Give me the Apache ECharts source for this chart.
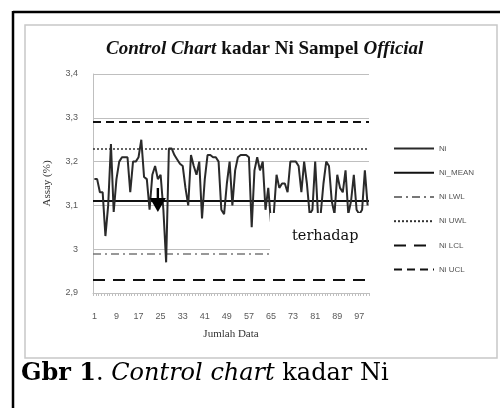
<!DOCTYPE html>
<html>
<head>
<meta charset="utf-8">
<script src="https://cdn.jsdelivr.net/npm/echarts@6/dist/echarts.min.js"></script>
<style>
html,body{margin:0;padding:0;background:#fff;}
#c{width:500px;height:408px;}
</style>
</head>
<body>
<div id="c"></div>
<script>
// ---- data ----
const categories = Array.from({length: 100}, (_, i) => String(i + 1));
const niValues = [
  3.16, 3.16, 3.13, 3.13, 3.03, 3.10, 3.24, 3.085, 3.16, 3.20,
  3.21, 3.21, 3.21, 3.13, 3.20, 3.20, 3.21, 3.25, 3.165, 3.16,
  3.09, 3.17, 3.19, 3.16, 3.17, 3.09, 2.97, 3.23, 3.23, 3.215,
  3.205, 3.195, 3.19, 3.14, 3.10, 3.215, 3.19, 3.17, 3.20, 3.07,
  3.16, 3.215, 3.215, 3.21, 3.21, 3.20, 3.09, 3.08, 3.15, 3.20,
  3.10, 3.18, 3.21, 3.215, 3.215, 3.215, 3.21, 3.05, 3.18, 3.21,
  3.18, 3.20, 3.09, 3.14, 3.06, 3.08, 3.17, 3.14, 3.15, 3.15,
  3.13, 3.20, 3.20, 3.20, 3.19, 3.13, 3.20, 3.15, 3.08, 3.09,
  3.20, 3.08, 3.08, 3.15, 3.20, 3.19, 3.11, 3.08, 3.17, 3.14,
  3.13, 3.18, 3.08, 3.11, 3.17, 3.09, 3.08, 3.09, 3.18, 3.10
];
const limitNames = ['Ni_MEAN', 'Ni LWL', 'Ni UWL', 'Ni LCL', 'Ni UCL'];
const limitValues = [3.108, 2.994, 3.233, 2.930, 3.290];
const yTicks = [2.9, 3.0, 3.1, 3.2, 3.3, 3.4];

// ---- styles ----
const limitStyles = [
  {color: '#111', width: 2, type: 'solid'},
  {color: '#777', width: 1.5, type: [8, 4, 2, 4]},
  {color: '#333', width: 1.5, type: [2, 2]},
  {color: '#111', width: 2, type: [12, 8]},
  {color: '#111', width: 2, type: [8, 5]}
];

const chart = echarts.init(document.getElementById('c'), null, {renderer: 'canvas'});

const series = [{
  name: 'Ni', type: 'line', data: niValues, symbol: 'none', z: 5,
  lineStyle: {color: '#2a2a2a', width: 2}, itemStyle: {color: '#2a2a2a'}
}];
limitNames.forEach((n, i) => {
  series.push({
    name: n, type: 'line', data: [], symbol: 'none', z: 4,
    lineStyle: limitStyles[i], itemStyle: {color: limitStyles[i].color},
    markLine: {
      silent: true, symbol: 'none', label: {show: false},
      lineStyle: limitStyles[i],
      data: [{yAxis: limitValues[i]}]
    }
  });
});

chart.setOption({
  animation: false,
  backgroundColor: '#fff',
  title: {
    text: '{i|Control Chart} {b|kadar Ni Sampel} {i|Official}',
    left: 101, top: 35,
    textStyle: {
      rich: {
        i: {fontFamily: 'Liberation Serif', fontStyle: 'italic', fontWeight: 'bold', fontSize: 19, color: '#111'},
        b: {fontFamily: 'Liberation Serif', fontWeight: 'bold', fontSize: 19, color: '#111'}
      }
    }
  },
  legend: {
    orient: 'vertical', left: 388, top: 138, itemWidth: 40, itemHeight: 14, itemGap: 13,
    itemStyle: {opacity: 0, borderWidth: 0},
    textStyle: {fontFamily: 'Liberation Sans', fontSize: 8, color: '#555'},
    data: ['Ni'].concat(limitNames)
  },
  grid: {left: 93, right: 131, top: 74, bottom: 115},
  xAxis: {
    type: 'category', data: categories, boundaryGap: true,
    name: 'Jumlah Data', nameLocation: 'middle', nameGap: 36,
    nameTextStyle: {fontFamily: 'Liberation Serif', fontSize: 11, color: '#333'},
    axisLine: {lineStyle: {color: '#bfbfbf', width: 1}},
    axisTick: {show: true, interval: 0, length: 3, lineStyle: {color: '#bfbfbf'}},
    axisLabel: {interval: 7, fontFamily: 'Liberation Sans', fontSize: 9, color: '#595959', margin: 19}
  },
  yAxis: {
    type: 'value', min: 2.9, max: 3.4, interval: 0.1,
    name: 'Assay (%)', nameLocation: 'middle', nameGap: 40, nameRotate: 90,
    nameTextStyle: {fontFamily: 'Liberation Serif', fontSize: 11, color: '#333'},
    axisLine: {show: true, lineStyle: {color: '#bfbfbf'}},
    axisTick: {show: false},
    splitLine: {lineStyle: {color: '#bfbfbf', width: 1}},
    axisLabel: {
      fontFamily: 'Liberation Sans', fontSize: 9, color: '#595959', margin: 15,
      formatter: v => {
        const t = yTicks.find(k => Math.abs(k - v) < 1e-6);
        const s = String(Math.round((t !== undefined ? t : v) * 10) / 10);
        return s.replace('.', ',');
      }
    }
  },
  series: series
});

// overlays: frames, arrow, white patch with stray text, caption
function draw() {
  const tip = chart.convertToPixel({gridIndex: 0}, [22.7, 3.085]);
  const tx = tip[0], ty = tip[1];
  chart.setOption({
    graphic: [
      {type: 'rect', z: 0, shape: {x: 25, y: 25, width: 472, height: 333},
       style: {fill: 'none', stroke: '#c8c8c8', lineWidth: 1.5}},
      {type: 'line', z: 100, shape: {x1: 13, y1: 12, x2: 500, y2: 12}, style: {stroke: '#000', lineWidth: 2.5}},
      {type: 'line', z: 100, shape: {x1: 13, y1: 11, x2: 13, y2: 408}, style: {stroke: '#000', lineWidth: 2.5}},
      {type: 'polygon', z: 100, shape: {points: [[tx - 8, ty - 14], [tx + 8, ty - 14], [tx, ty]]}, style: {fill: '#000'}},
      {type: 'rect', z: 100, shape: {x: tx - 1.2, y: ty - 24, width: 2.4, height: 11}, style: {fill: '#000'}},
      {type: 'rect', z: 100, shape: {x: 270, y: 213, width: 102, height: 44}, style: {fill: '#fff'}},
      {type: 'text', z: 101, x: 292, y: 229,
       style: {text: 'terhadap', font: '14.5px "DejaVu Serif"', fill: '#111'}},
      {type: 'text', z: 101, x: 21, y: 362,
       style: {
         text: '{b|Gbr 1}. {i|Control chart} kadar Ni',
         font: '24px "DejaVu Serif"', fill: '#000',
         rich: {
           b: {fontFamily: 'DejaVu Serif', fontWeight: 'bold', fontSize: 24, fill: '#000'},
           i: {fontFamily: 'DejaVu Serif', fontStyle: 'italic', fontSize: 24, fill: '#000'}
         }
       }}
    ]
  });
}
draw();
</script>
</body>
</html>
